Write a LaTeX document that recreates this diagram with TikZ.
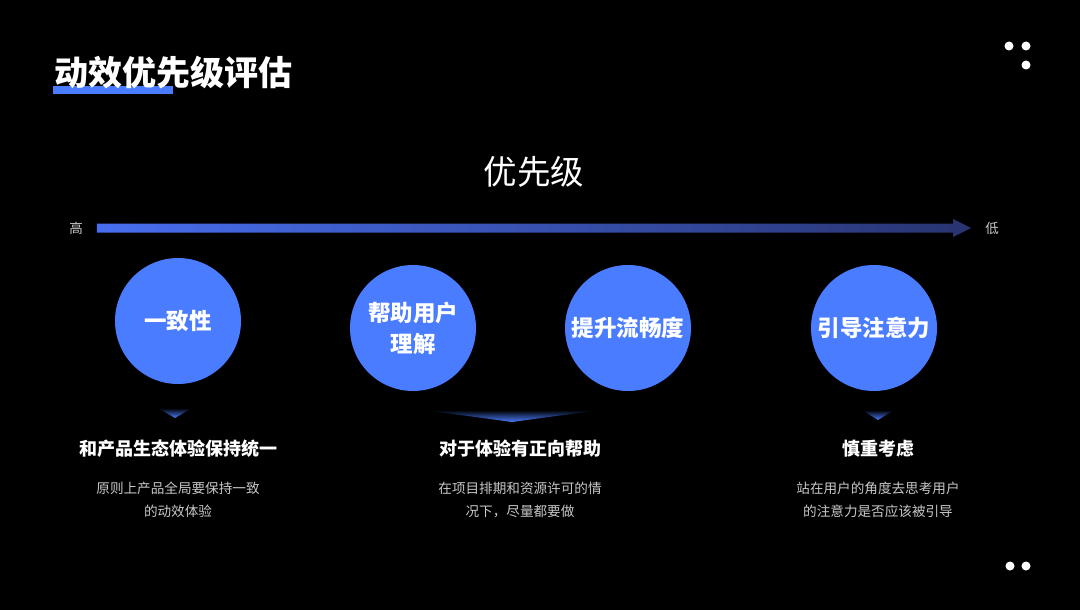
\documentclass[tikz,border=0pt]{standalone}
\usepackage{fontspec}
\setmainfont{Noto Sans CJK SC}
\usetikzlibrary{positioning,calc}
\definecolor{prioblue}{RGB}{74,124,255}
\definecolor{arrowleft}{RGB}{72,110,240}
\definecolor{arrowright}{RGB}{40,52,112}
\definecolor{greytext}{RGB}{200,200,200}
\begin{document}
\begin{tikzpicture}[
  x=1pt, y=-1pt,
  every node/.style={text=white, align=center, inner sep=0pt},
  ball/.style={circle, fill=prioblue, minimum size=126pt, font=\bfseries\fontsize{22.5}{31}\selectfont},
  head/.style={font=\bfseries\fontsize{18}{22}\selectfont},
  desc/.style={text=greytext, font=\fontsize{13.6}{23}\selectfont},
  dot/.style={circle, fill=white, minimum size=9pt},
  glow/.style={top color=black, bottom color=prioblue}
]
\fill[black] (0,0) rectangle (1080,610);

% title
\fill[prioblue] (53,86) rectangle (173,94);
\node[anchor=west, font=\bfseries\fontsize{34}{38}\selectfont] (title) at (54,73) {动效优先级评估};
\node[dot] (d1) at (1009,46) {};
\node[dot] (d2) at (1026,46) {};
\node[dot] (d3) at (1026,65) {};

% scale
\node[font=\fontsize{33.5}{38}\selectfont] (prio) at (534,172) {优先级};
\node[text=greytext, font=\fontsize{13.5}{15}\selectfont] (hi) at (76,228) {高};
\node[text=greytext, font=\fontsize{13.5}{15}\selectfont] (lo) at (992,228) {低};
\shade[left color=arrowleft, right color=arrowright]
  ($(hi.east)+(14,-4.5)$) -- ($(lo.west)+(-32,-4.5)$) -- ($(lo.west)+(-32,-9)$)
  -- ($(lo.west)+(-14,0)$) -- ($(lo.west)+(-32,9)$) -- ($(lo.west)+(-32,4.5)$)
  -- ($(hi.east)+(14,4.5)$) -- cycle;

% items
\node[ball] (consist) at (178,321) {一致性};
\node[ball] (assist) at (413,328) {帮助用户\\理解};
\node[ball] (smooth) at (628,328) {提升流畅度};
\node[ball] (attn) at (874,328) {引导注意力};

\node[head] (h1) at (178,449) {和产品生态体验保持统一};
\node[head] (h2) at (520,449) {对于体验有正向帮助};
\node[head] (h3) at (878,449) {慎重考虑};

\node[desc, below=33pt of h1.center, anchor=north] (t1) {原则上产品全局要保持一致\\的动效体验};
\node[desc, below=33pt of h2.center, anchor=north] (t2) {在项目排期和资源许可的情\\况下，尽量都要做};
\node[desc, below=33pt of h3.center, anchor=north] (t3) {站在用户的角度去思考用户\\的注意力是否应该被引导};

\shade[glow] ($(h1)+(-20,-41)$) -- ($(h1)+(14,-41)$) -- ($(h1)+(-3,-31)$) -- cycle;
\shade[glow] ($(h2)+(-96,-39)$) -- ($(h2)+(80,-39)$) -- ($(h2)+(-8,-27)$) -- cycle;
\shade[glow] ($(h3)+(-16,-39)$) -- ($(h3)+(16,-39)$) -- ($(h3)+(0,-29)$) -- cycle;

\node[dot] (d4) at (1010,566) {};
\node[dot] (d5) at (1026,566) {};
\end{tikzpicture}
\end{document}
